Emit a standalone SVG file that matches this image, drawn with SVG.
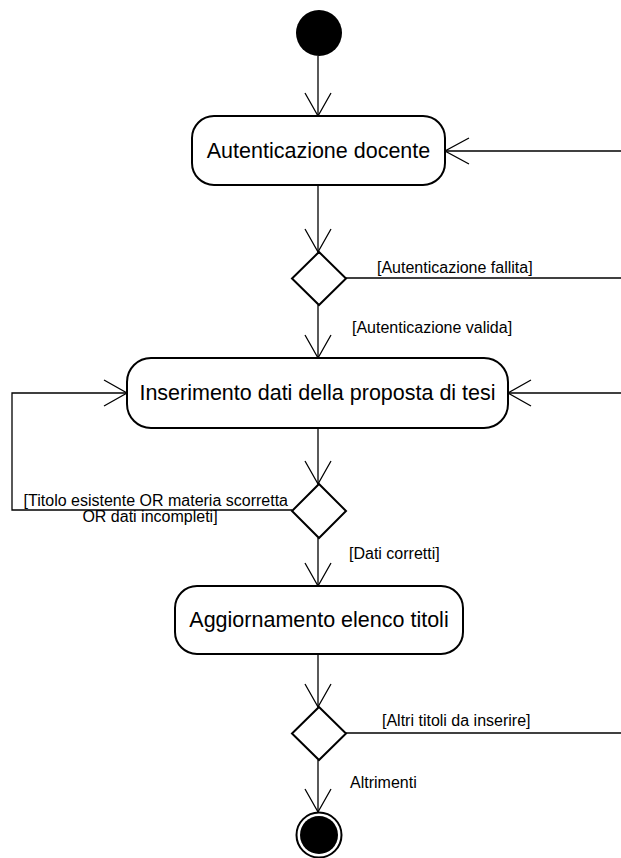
<svg xmlns="http://www.w3.org/2000/svg" width="621" height="858" viewBox="0 0 621 858">
  <style>
    .act { fill: #fff; stroke: #000; stroke-width: 2; }
    .dec { fill: #fff; stroke: #000; stroke-width: 2; }
    .edge { fill: none; stroke: #000; stroke-width: 1.3; }
    .head { fill: none; stroke: #000; stroke-width: 1.3; }
    .big { font-family: "Liberation Sans", Arial, sans-serif; font-size: 21.5px; fill: #000; text-anchor: middle; }
    .lbl { font-family: "Liberation Sans", Arial, sans-serif; font-size: 16px; fill: #000; }
  </style>
  <rect width="621" height="858" fill="#fff"/>

  <g id="connectors">
    <!-- start -> authentication -->
    <line class="edge" x1="318" y1="56" x2="318" y2="116"/>
    <polyline class="head" points="305,93 318,116 331,93"/>
    <!-- authentication -> decision 1 -->
    <line class="edge" x1="318" y1="185" x2="318" y2="252"/>
    <polyline class="head" points="305,229 318,252 331,229"/>
    <!-- failed authentication loop -->
    <line class="edge" x1="346" y1="278" x2="622" y2="278"/>
    <line class="edge" x1="622" y1="151" x2="445" y2="151"/>
    <polyline class="head" points="469,138 445,151 469,164"/>
    <!-- decision 1 -> data entry -->
    <line class="edge" x1="318" y1="305" x2="318" y2="358"/>
    <polyline class="head" points="305,335 318,358 331,335"/>
    <!-- data entry -> decision 2 -->
    <line class="edge" x1="318" y1="428" x2="318" y2="484"/>
    <polyline class="head" points="305,461 318,484 331,461"/>
    <!-- incorrect data loop -->
    <polyline class="edge" points="292,510 12,510 12,393 127,393"/>
    <polyline class="head" points="104,380 127,393 104,406"/>
    <!-- more titles loop -->
    <line class="edge" x1="622" y1="393" x2="508" y2="393"/>
    <polyline class="head" points="531,380 508,393 531,406"/>
    <!-- decision 2 -> update list -->
    <line class="edge" x1="318" y1="538" x2="318" y2="586"/>
    <polyline class="head" points="305,563 318,586 331,563"/>
    <!-- update list -> decision 3 -->
    <line class="edge" x1="318" y1="654" x2="318" y2="707"/>
    <polyline class="head" points="305,684 318,707 331,684"/>
    <line class="edge" x1="346" y1="733" x2="622" y2="733"/>
    <!-- decision 3 -> end -->
    <line class="edge" x1="318" y1="760" x2="318" y2="812"/>
    <polyline class="head" points="305,789 318,812 331,789"/>

    <text class="lbl" x="377" y="273">[Autenticazione fallita]</text>
    <text class="lbl" x="352" y="333">[Autenticazione valida]</text>
    <text class="lbl" x="288" y="506" text-anchor="end">[Titolo esistente OR materia scorretta</text>
    <text class="lbl" x="150" y="522" text-anchor="middle">OR dati incompleti]</text>
    <text class="lbl" x="349" y="559">[Dati corretti]</text>
    <text class="lbl" x="382" y="726">[Altri titoli da inserire]</text>
    <text class="lbl" x="350" y="788">Altrimenti</text>
  </g>

  <g id="start">
    <circle cx="319" cy="33" r="23" fill="#000"/>
  </g>

  <g id="auth">
    <rect class="act" x="192" y="116" width="253" height="69" rx="22" ry="22"/>
    <text class="big" x="318.5" y="158">Autenticazione docente</text>
  </g>

  <g id="decision1">
    <polygon class="dec" points="319,252 346,278.5 319,305 292,278.5"/>
  </g>

  <g id="entry">
    <rect class="act" x="127" y="358" width="381" height="70" rx="24" ry="24"/>
    <text class="big" x="317.5" y="400">Inserimento dati della proposta di tesi</text>
  </g>

  <g id="decision2">
    <polygon class="dec" points="319,484 346,511 319,538 292,511"/>
  </g>

  <g id="update">
    <rect class="act" x="175" y="586" width="288" height="68" rx="22" ry="22"/>
    <text class="big" x="319" y="627">Aggiornamento elenco titoli</text>
  </g>

  <g id="decision3">
    <polygon class="dec" points="319,707 346,733.5 319,760 292,733.5"/>
  </g>

  <g id="end">
    <circle cx="319" cy="835" r="22.5" fill="#fff" stroke="#000" stroke-width="2"/>
    <circle cx="319" cy="835" r="19" fill="#000"/>
  </g>
</svg>
